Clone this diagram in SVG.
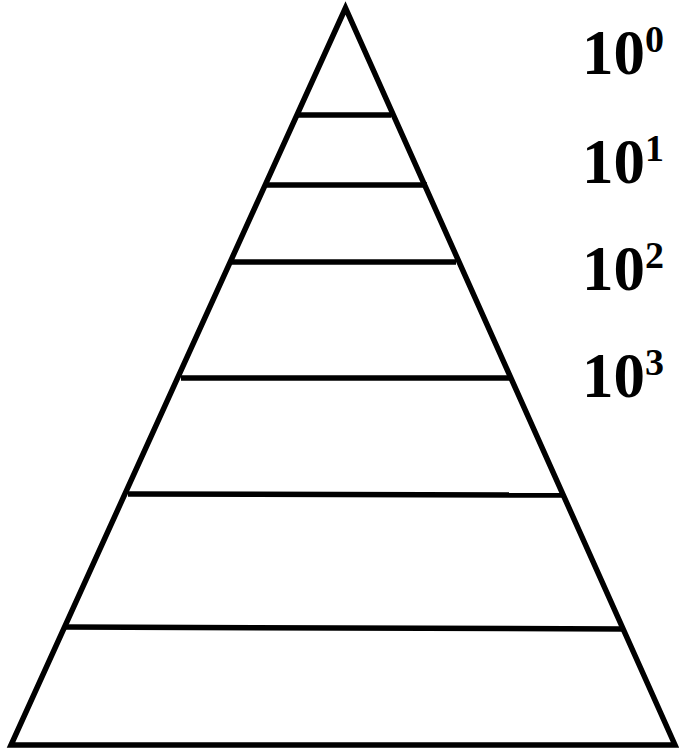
<svg xmlns="http://www.w3.org/2000/svg" width="679" height="750" viewBox="0 0 679 750">
<style>
.e{stroke:#000;stroke-width:5.5;fill:none;stroke-linejoin:miter}
.l{font-family:"Liberation Serif",serif;font-weight:bold;font-size:63px;fill:#000}
.s{font-size:38px}
</style>
<rect width="679" height="750" fill="#fff"/>
<g id="pyramid">
<path class="e" d="M345.5 8 L11 745 L675 745 Z"/>
</g>
<g id="connectors">
<line class="e" x1="298" y1="115" x2="391" y2="115"/>
<line class="e" x1="267" y1="185" x2="427" y2="185"/>
<line class="e" x1="232" y1="262" x2="456" y2="262"/>
<line class="e" x1="181" y1="378" x2="510" y2="378"/>
<line class="e" x1="128" y1="494" x2="562" y2="495"/>
<line class="e" x1="65" y1="627" x2="623" y2="629"/>
</g>
<g id="labels">
<text class="l" x="582" y="74">10<tspan class="s" dy="-22">0</tspan></text>
<text class="l" x="582" y="183">10<tspan class="s" dy="-22">1</tspan></text>
<text class="l" x="582" y="290">10<tspan class="s" dy="-22">2</tspan></text>
<text class="l" x="582" y="397">10<tspan class="s" dy="-22">3</tspan></text>
</g>
</svg>
